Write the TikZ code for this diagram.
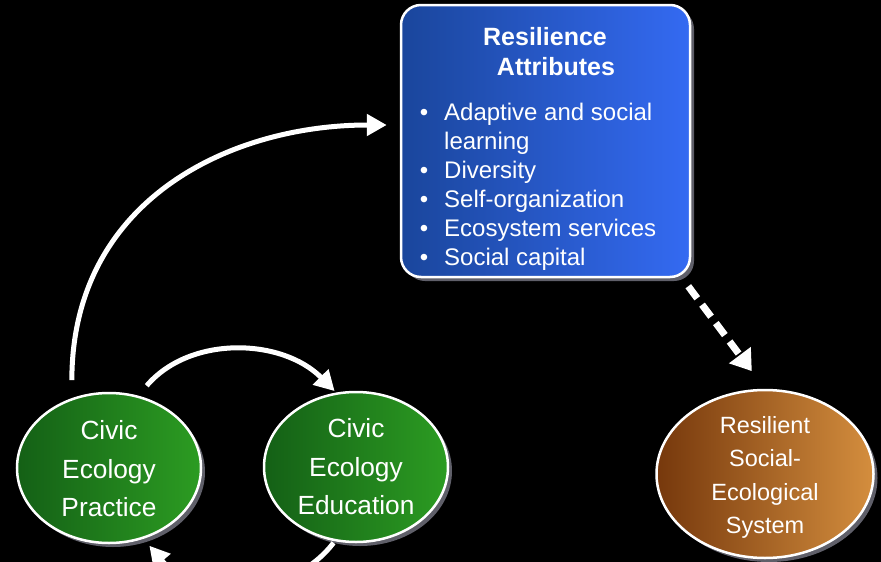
\documentclass[tikz,border=0pt]{standalone}
\usepackage{fontspec}
\setmainfont{Liberation Sans}
\usetikzlibrary{arrows.meta,shadows,shapes.geometric}
\definecolor{blueL}{RGB}{26,70,156}
\definecolor{blueR}{RGB}{52,106,242}
\definecolor{greenL}{RGB}{20,96,22}
\definecolor{greenR}{RGB}{44,156,34}
\definecolor{brownL}{RGB}{118,56,12}
\definecolor{brownR}{RGB}{212,142,62}
\definecolor{shadowgray}{RGB}{95,95,105}
\begin{document}
\begin{tikzpicture}[x=1pt,y=-1pt,
  shadowed/.style={drop shadow={shadow xshift=4pt,shadow yshift=-4pt,fill=shadowgray,opacity=1}},
  attrbox/.style={draw=white,line width=2.5pt,rounded corners=20pt,inner sep=0pt,
    left color=blueL,right color=blueR,shadowed,
    minimum width=289pt,minimum height=272pt},
  ell/.style={ellipse,draw=white,line width=2.5pt,inner sep=0pt,shadowed},
  greenell/.style={ell,left color=greenL,right color=greenR,minimum width=184pt,minimum height=150pt},
  brownell/.style={ell,left color=brownL,right color=brownR,minimum width=217pt,minimum height=168pt},
  title/.style={text=white,font=\bfseries\fontsize{25}{30}\selectfont,anchor=base,inner sep=0pt},
  item/.style={text=white,font=\fontsize{24}{29}\selectfont,anchor=base west,inner sep=0pt},
  dot/.style={text=white,font=\fontsize{24}{29}\selectfont,anchor=base,inner sep=0pt},
  elltext/.style={text=white,align=center,inner sep=0pt},
  arr/.style={draw=white,line width=5pt,-{Triangle[length=20pt,width=21pt]}},
  dasharr/.style={draw=white,line width=7pt,dash pattern=on 15pt off 8pt,-{Triangle[length=20pt,width=26pt]}}
]
\useasboundingbox (0,0) rectangle (881,562);
\clip (0,0) rectangle (881,562);
\fill[black] (0,0) rectangle (881,562);

% nodes
\node[attrbox] (box) at (545.5,141) {};
\node[greenell] (prac) at (109,468) {};
\node[greenell] (educ) at (356,467) {};
\node[brownell] (res) at (765,474) {};

% texts
\node[title] (t1) at (545,45) {Resilience};
\node[title] (t2) at (556,75) {Attributes};
\foreach \y/\nm in {120/1,178/2,207/3,236/4,265/5}
  \node[dot] (d\nm) at (424,\y) {•};
\node[item] (i1) at (444,120) {Adaptive and social};
\node[item] (i1b) at (444,149) {learning};
\node[item] (i2) at (444,178) {Diversity};
\node[item] (i3) at (444,207) {Self-organization};
\node[item] (i4) at (444,236) {Ecosystem services};
\node[item] (i5) at (444,265) {Social capital};

\node[elltext,font=\fontsize{26.3}{38.5}\selectfont] (ptext) at (109,469) {Civic\\Ecology\\Practice};
\node[elltext,font=\fontsize{26.3}{38.5}\selectfont] (etext) at (356,467) {Civic\\Ecology\\Education};
\node[elltext,font=\fontsize{23.5}{33.5}\selectfont] (rtext) at (765,477.3) {Resilient\\Social-\\Ecological\\System};

% connectors
\draw[arr,shorten <=18pt,shorten >=13pt] (prac.118) .. controls (72,200) and (230,125) .. ([yshift=16pt]box.west);
\draw[arr,shorten <=13pt,shorten >=2pt] (prac.68) .. controls (190,335) and (282,338) .. (educ.105);
\draw[arr,shorten <=2pt,shorten >=9pt] (educ.254) .. controls (290,600) and (195,600) .. (prac.296);
\draw[dasharr,shorten >=22pt] ([xshift=-3pt,yshift=-8pt]box.south east) -- (res.north);
\end{tikzpicture}
\end{document}
